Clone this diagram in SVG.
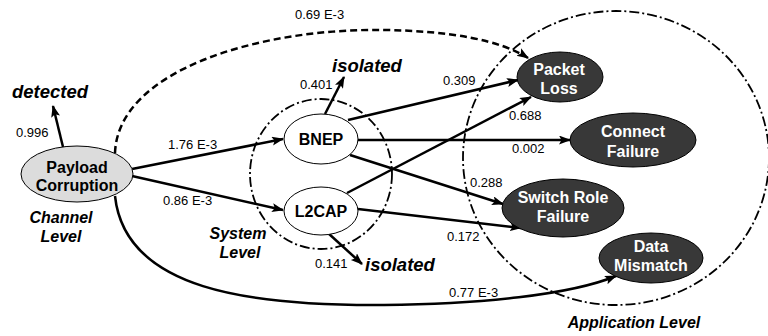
<svg xmlns="http://www.w3.org/2000/svg" width="768" height="336" viewBox="0 0 768 336">
<defs>
<marker id="ah" markerUnits="userSpaceOnUse" markerWidth="12" markerHeight="10" refX="11" refY="4.5" orient="auto">
<path d="M0,0 L12,4.5 L0,9 L2.5,4.5 z" fill="#000"/>
</marker>
<style>
.edge{fill:none;stroke:#000;stroke-width:2.5;marker-end:url(#ah)}
.dash{fill:none;stroke:#000;stroke-width:2.5;stroke-dasharray:7 4;marker-end:url(#ah)}
.region{fill:none;stroke:#000;stroke-width:1.8;stroke-dasharray:10 3 2 3}
.lbl{font-family:"Liberation Sans",Arial,sans-serif;font-size:13px;fill:#000}
.big{font-family:"Liberation Sans",Arial,sans-serif;font-size:18.5px;font-weight:bold;font-style:italic;fill:#000}
.lvl{font-family:"Liberation Sans",Arial,sans-serif;font-size:16px;font-weight:bold;font-style:italic;fill:#000}
.dark{fill:#383838;stroke:#000;stroke-width:1}
.light{fill:#dcdcdc;stroke:#000;stroke-width:1}
.white{fill:#fff;stroke:#000;stroke-width:1}
.wt{font-family:"Liberation Sans",Arial,sans-serif;font-size:16px;font-weight:bold;fill:#fff;text-anchor:middle}
.bt{font-family:"Liberation Sans",Arial,sans-serif;font-size:16px;font-weight:bold;fill:#000;text-anchor:middle}
</style>
</defs>
<rect width="768" height="336" fill="#fff"/>

<g id="regions">
<ellipse class="region" cx="321" cy="174" rx="71" ry="75"/>
<ellipse class="region" cx="616" cy="158" rx="153" ry="147"/>
</g>

<g id="connectors">
<path class="dash" d="M115,153 C118,70 260,28 384,30 C450,31 500,40 528,58"/>
<path class="edge" d="M63,147 L53,106"/>
<path class="edge" d="M132,169 L283,139"/>
<path class="edge" d="M132,176 L283,210"/>
<path class="edge" d="M115,196 C125,290 250,306 384,305 C480,304 570,295 616,276"/>
<path class="edge" d="M325,114 L344,77"/>
<path class="edge" d="M328,233 L362,264"/>
<path class="edge" d="M348,120 L518,80"/>
<path class="edge" d="M347,193 L531,97"/>
<path class="edge" d="M358,140 L570,140"/>
<path class="edge" d="M350,155 L503,204"/>
<path class="edge" d="M358,209 L521,228"/>
</g>

<g id="edge-labels">
<text class="lbl" x="295" y="19">0.69 E-3</text>
<text class="lbl" x="16" y="137">0.996</text>
<text class="lbl" x="168" y="149">1.76 E-3</text>
<text class="lbl" x="163" y="205">0.86 E-3</text>
<text class="lbl" x="300" y="89">0.401</text>
<text class="lbl" x="315" y="268">0.141</text>
<text class="lbl" x="443" y="85">0.309</text>
<text class="lbl" x="509" y="120">0.688</text>
<text class="lbl" x="512" y="153">0.002</text>
<text class="lbl" x="470" y="187">0.288</text>
<text class="lbl" x="447" y="241">0.172</text>
<text class="lbl" x="449" y="297">0.77 E-3</text>
</g>

<g id="outcomes">
<text class="big" x="12" y="98">detected</text>
<text class="big" x="332" y="72">isolated</text>
<text class="big" x="365" y="271">isolated</text>
</g>

<g id="level-labels">
<text class="lvl" x="61" y="223" text-anchor="middle">Channel</text>
<text class="lvl" x="61" y="242" text-anchor="middle">Level</text>
<text class="lvl" x="238" y="239" text-anchor="middle">System</text>
<text class="lvl" x="240" y="258" text-anchor="middle">Level</text>
<text class="lvl" x="634" y="328" text-anchor="middle">Application Level</text>
</g>

<g id="payload-corruption">
<ellipse class="light" cx="77" cy="174" rx="56" ry="28"/>
<text class="bt" x="77" y="173">Payload</text>
<text class="bt" x="77" y="191">Corruption</text>
</g>

<g id="bnep">
<ellipse class="white" cx="321" cy="139" rx="37" ry="25"/>
<text class="bt" x="321" y="145">BNEP</text>
</g>

<g id="l2cap">
<ellipse class="white" cx="321" cy="211" rx="37" ry="24"/>
<text class="bt" x="321" y="217">L2CAP</text>
</g>

<g id="packet-loss">
<ellipse class="dark" cx="560" cy="77" rx="43" ry="25"/>
<text class="wt" x="559" y="75">Packet</text>
<text class="wt" x="559" y="94">Loss</text>
</g>

<g id="connect-failure">
<ellipse class="dark" cx="633" cy="140" rx="63" ry="27"/>
<text class="wt" x="633" y="137">Connect</text>
<text class="wt" x="633" y="157">Failure</text>
</g>

<g id="switch-role-failure">
<ellipse class="dark" cx="563" cy="208" rx="61" ry="29"/>
<text class="wt" x="563" y="203">Switch Role</text>
<text class="wt" x="563" y="222">Failure</text>
</g>

<g id="data-mismatch">
<ellipse class="dark" cx="651" cy="258" rx="52" ry="25"/>
<text class="wt" x="651" y="252">Data</text>
<text class="wt" x="651" y="271">Mismatch</text>
</g>
</svg>
